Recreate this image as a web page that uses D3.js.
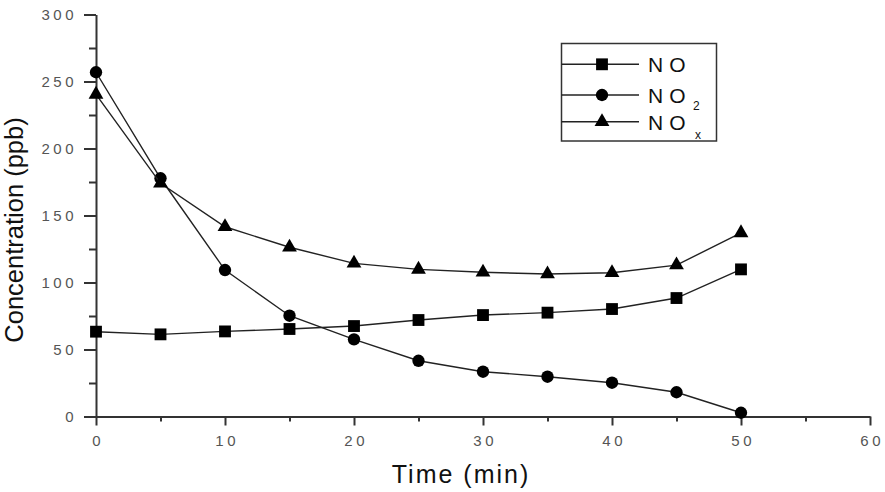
<!DOCTYPE html>
<html>
<head>
<meta charset="utf-8">
<title>NO, NO2, NOx concentration vs time</title>
<script src="https://d3js.org/d3.v7.min.js"></script>
<style>
    body { margin: 0; background: #fff; }
    svg { font-family: "Liberation Sans", Arial, sans-serif; }
    .tick text { fill: #555; font-size: 15px; letter-spacing: 3.5px; }
    .axis path, .axis line { stroke: #333; }
</style>
</head>
<body>
<div id="chart"></div>
<script>
// values
var times = [0, 5, 10, 15, 20, 25, 30, 35, 40, 45, 50];
var no = [63.3, 61.3, 63.5, 65.3, 67.5, 72, 75.7, 77.5, 80.2, 88.4, 109.8];
var no2 = [256.9, 177.8, 109.3, 75.2, 57.6, 41.6, 33.4, 29.7, 25.2, 18.1, 2.8];
var nox = [240.4, 174, 141.6, 126.3, 114.3, 109.8, 107.6, 106.3, 107.3, 113, 137];
var xTicks = [0, 10, 20, 30, 40, 50, 60];
var yTicks = [0, 50, 100, 150, 200, 250, 300];
var seriesNames = ["NO", "NO2", "NOx"];

var width = 885, height = 492;

var svg = d3.select("#chart").append("svg")
    .attr("width", width)
    .attr("height", height);

var x = d3.scaleLinear().domain([0, 60]).range([96, 870]);
var y = d3.scaleLinear().domain([0, 300]).range([416.5, 14.5]);

// minor ticks first
svg.append("g")
    .attr("class", "axis")
    .attr("transform", "translate(0," + y(0) + ")")
    .call(d3.axisBottom(x).tickValues(d3.range(5, 60, 10)).tickSize(5).tickSizeOuter(0).tickFormat(""))
    .call(function (g) { g.select(".domain").remove(); })
    .selectAll("line").attr("stroke-width", 2);

svg.append("g")
    .attr("class", "axis")
    .attr("transform", "translate(" + x(0) + ",0)")
    .call(d3.axisLeft(y).tickValues(d3.range(25, 300, 50)).tickSize(7).tickSizeOuter(0).tickFormat(""))
    .call(function (g) { g.select(".domain").remove(); })
    .selectAll("line").attr("stroke-width", 2);

// major axes
var xAxis = svg.append("g")
    .attr("class", "axis")
    .attr("transform", "translate(0," + y(0) + ")")
    .call(d3.axisBottom(x).tickValues(xTicks).tickSize(9).tickSizeOuter(0).tickPadding(7));
xAxis.select(".domain").attr("stroke-width", 2);
xAxis.selectAll("line").attr("stroke-width", 2);
xAxis.selectAll("text").attr("dx", "1.7px").attr("dy", "0.9em");

var yAxis = svg.append("g")
    .attr("class", "axis")
    .attr("transform", "translate(" + x(0) + ",0)")
    .call(d3.axisLeft(y).tickValues(yTicks).tickSize(12).tickSizeOuter(0).tickPadding(7));
yAxis.select(".domain").attr("stroke-width", 2);
yAxis.selectAll("line").attr("stroke-width", 2);

// axis titles
svg.append("text")
    .attr("x", 461)
    .attr("y", 483)
    .attr("text-anchor", "middle")
    .style("font-size", "25px")
    .style("letter-spacing", "2px")
    .style("fill", "#111")
    .text("Time (min)");

svg.append("text")
    .attr("transform", "translate(23,230) rotate(-90)")
    .attr("text-anchor", "middle")
    .style("font-size", "25.5px")
    .style("fill", "#111")
    .text("Concentration (ppb)");

// series
var symbols = [d3.symbolSquare, d3.symbolCircle, d3.symbolTriangle];
var sizes = [140, 120, 95];
var allSeries = [no, no2, nox];

var line = d3.line()
    .x(function (d, i) { return x(times[i]); })
    .y(function (d) { return y(d); });

allSeries.forEach(function (vals, k) {
    svg.append("path")
        .datum(vals)
        .attr("fill", "none")
        .attr("stroke", "#222")
        .attr("stroke-width", 1.4)
        .attr("d", line);

    svg.selectAll(".pt" + k)
        .data(vals)
        .enter()
        .append("path")
        .attr("class", "pt" + k)
        .attr("transform", function (d, i) { return "translate(" + x(times[i]) + "," + y(d) + ")"; })
        .attr("d", d3.symbol().type(symbols[k]).size(sizes[k]))
        .attr("fill", "#000");
});

// legend
var legend = svg.append("g");
legend.append("rect")
    .attr("x", 561.5).attr("y", 43.5)
    .attr("width", 155).attr("height", 97.5)
    .attr("fill", "#fff")
    .attr("stroke", "#333")
    .attr("stroke-width", 1.5);

var rowsY = [64.3, 95, 121.7];
seriesNames.forEach(function (name, k) {
    var ry = rowsY[k];
    legend.append("line")
        .attr("x1", 561.5).attr("x2", 639)
        .attr("y1", ry).attr("y2", ry)
        .attr("stroke", "#222").attr("stroke-width", 1.4);
    legend.append("path")
        .attr("transform", "translate(602," + ry + ")")
        .attr("d", d3.symbol().type(symbols[k]).size(sizes[k]))
        .attr("fill", "#000");
    legend.append("text")
        .attr("x", 648)
        .attr("y", ry + 8)
        .style("font-size", "21px")
        .style("letter-spacing", "6px")
        .style("fill", "#111")
        .text("NO");
    if (k > 0) {
        legend.append("text")
            .attr("x", k === 1 ? 693 : 695)
            .attr("y", k === 1 ? ry + 15 : ry + 17)
            .style("font-size", "12px")
            .style("fill", "#111")
            .text(k === 1 ? "2" : "x");
    }
});
</script>
</body>
</html>
